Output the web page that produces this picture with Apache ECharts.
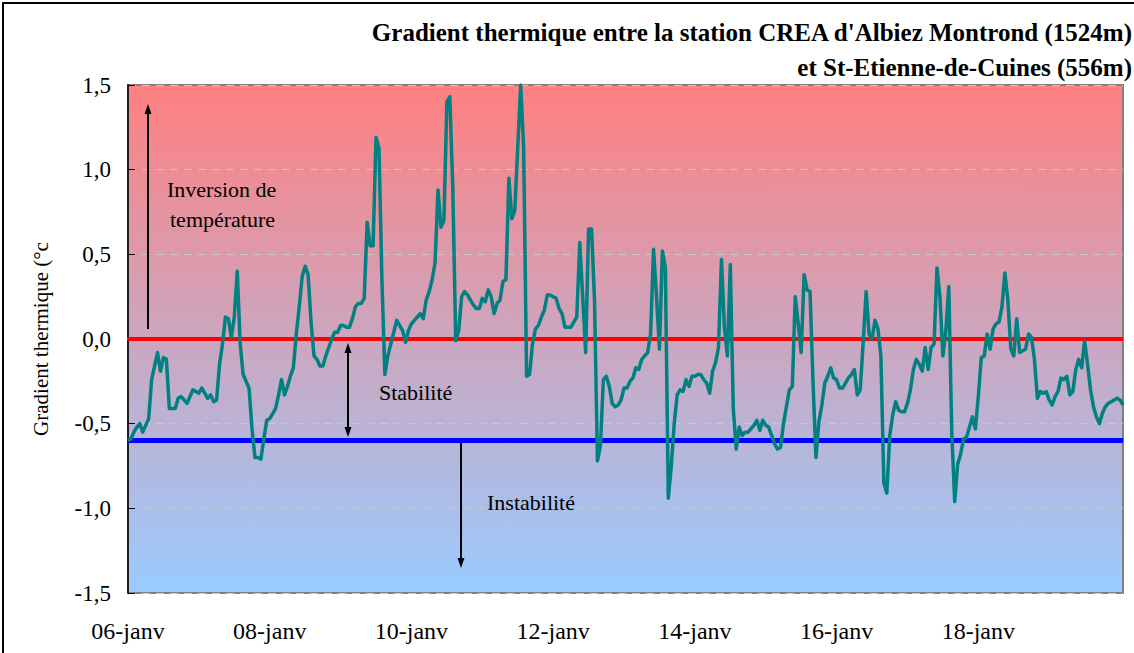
<!DOCTYPE html>
<html>
<head>
<meta charset="utf-8">
<title>Gradient thermique</title>
<script src="https://cdn.jsdelivr.net/npm/echarts@6/dist/echarts.min.js"></script>
<style>
  html, body { margin: 0; padding: 0; background: #fff; }
  #chart { width: 1134px; height: 653px; }
</style>
</head>
<body>
<div id="chart"></div>
<script>
// labels shown every 48 h along the time axis
var dayLabels = ['06-janv', '08-janv', '10-janv', '12-janv', '14-janv', '16-janv', '18-janv']
var hoursPerLabel = 48

// reference levels (°C)
var inversionLevel = 0
var instabilityLevel = -0.6

// hourly gradient from 06-janv 00h
var gradient = [
  // 06-janv
  -0.60, -0.59, -0.55, -0.52, -0.50, -0.55, -0.51, -0.47, -0.24, -0.16, -0.08, -0.19,
  -0.11, -0.12, -0.41, -0.41, -0.41, -0.35, -0.34, -0.36, -0.38, -0.34, -0.30, -0.31,
  // 07-janv
  -0.32, -0.29, -0.32, -0.35, -0.33, -0.37, -0.36, -0.15, -0.03, 0.13, 0.12, 0.01,
  0.13, 0.40, -0.03, -0.21, -0.25, -0.29, -0.53, -0.70, -0.70, -0.71, -0.59, -0.48,
  // 08-janv
  -0.47, -0.44, -0.41, -0.33, -0.24, -0.33, -0.28, -0.22, -0.17, 0.03, 0.19, 0.37,
  0.43, 0.38, 0.10, -0.10, -0.12, -0.16, -0.16, -0.10, -0.05, 0.00, 0.04, 0.04,
  // 09-janv
  0.08, 0.08, 0.07, 0.07, 0.12, 0.19, 0.21, 0.21, 0.24, 0.69, 0.55, 0.55,
  1.19, 1.13, 0.35, -0.21, -0.10, -0.03, 0.04, 0.11, 0.08, 0.05, -0.02, 0.05,
  // 10-janv
  0.09, 0.11, 0.13, 0.15, 0.12, 0.23, 0.28, 0.35, 0.45, 0.88, 0.66, 0.70,
  1.40, 1.43, 0.89, -0.01, 0.05, 0.25, 0.28, 0.26, 0.23, 0.20, 0.18, 0.18,
  // 11-janv
  0.24, 0.22, 0.29, 0.25, 0.15, 0.21, 0.23, 0.34, 0.35, 0.95, 0.71, 0.76,
  1.13, 1.50, 1.13, -0.22, -0.21, -0.03, 0.06, 0.08, 0.13, 0.17, 0.26, 0.26,
  // 12-janv
  0.25, 0.24, 0.18, 0.15, 0.07, 0.07, 0.07, 0.10, 0.13, 0.57, 0.25, -0.08,
  0.65, 0.65, 0.23, -0.72, -0.63, -0.24, -0.22, -0.28, -0.38, -0.40, -0.39, -0.36,
  // 13-janv
  -0.29, -0.29, -0.25, -0.23, -0.17, -0.18, -0.12, -0.10, -0.08, 0.03, 0.53, 0.25,
  -0.06, 0.52, 0.42, -0.94, -0.75, -0.50, -0.33, -0.30, -0.31, -0.24, -0.28, -0.22,
  // 14-janv
  -0.22, -0.21, -0.21, -0.24, -0.26, -0.32, -0.19, -0.14, -0.05, 0.47, 0.07, -0.10,
  0.44, -0.41, -0.65, -0.52, -0.57, -0.55, -0.55, -0.53, -0.51, -0.48, -0.54, -0.48,
  // 15-janv
  -0.51, -0.52, -0.57, -0.62, -0.65, -0.64, -0.50, -0.40, -0.30, -0.28, 0.25, 0.09,
  -0.08, 0.38, 0.29, 0.28, -0.25, -0.70, -0.49, -0.39, -0.26, -0.22, -0.17, -0.23,
  // 16-janv
  -0.24, -0.29, -0.29, -0.26, -0.23, -0.21, -0.18, -0.33, -0.30, -0.02, 0.28, 0.03,
  0.00, 0.11, 0.06, -0.10, -0.85, -0.91, -0.57, -0.45, -0.37, -0.42, -0.43, -0.43,
  // 17-janv
  -0.38, -0.30, -0.18, -0.12, -0.15, -0.19, -0.05, -0.18, -0.05, -0.03, 0.42, 0.25,
  -0.10, 0.05, 0.31, -0.55, -0.96, -0.74, -0.68, -0.59, -0.58, -0.52, -0.46, -0.53,
  // 18-janv
  -0.34, -0.11, -0.10, 0.03, -0.06, 0.06, 0.09, 0.10, 0.19, 0.39, 0.23, -0.06,
  -0.10, 0.12, -0.08, -0.07, -0.06, 0.03, 0.01, -0.12, -0.35, -0.31, -0.32, -0.31,
  // 19-janv
  -0.36, -0.39, -0.34, -0.31, -0.23, -0.24, -0.22, -0.33, -0.31, -0.18, -0.12, -0.17,
  -0.01, -0.15, -0.30, -0.40, -0.46, -0.50, -0.44, -0.40, -0.38, -0.37, -0.36, -0.35,
  -0.36, -0.39
]

var serif = "'Liberation Serif', 'Times New Roman', serif"
var lastHour = gradient.length - 1

var chart = echarts.init(document.getElementById('chart'), null, { renderer: 'svg' })

function arrowHead(x, y, dir) {
  // small filled triangle, tip at (x, y)
  var d = dir === 'up' ? 10 : -10
  return {
    type: 'polygon',
    z: 50,
    shape: { points: [[x, y], [x - 3.5, y + d], [x + 3.5, y + d]] },
    style: { fill: '#000' }
  }
}

var option = {
  animation: false,
  backgroundColor: '#fff',
  title: {
    text: "Gradient thermique entre la station CREA d'Albiez Montrond (1524m)\net St-Etienne-de-Cuines (556m)",
    left: 1132,
    top: 15,
    padding: 0,
    textAlign: 'right',
    textStyle: {
      fontFamily: serif,
      fontWeight: 'bold',
      fontSize: 25,
      lineHeight: 35,
      color: '#000'
    }
  },
  grid: {
    left: 128,
    right: 11,
    top: 85,
    bottom: 60,
    show: true,
    borderColor: '#808080',
    borderWidth: 2,
    backgroundColor: {
      type: 'linear', x: 0, y: 0, x2: 0, y2: 1,
      colorStops: [
        { offset: 0, color: '#ff8080' },
        { offset: 1, color: '#99ccff' }
      ]
    },
    outerBoundsMode: 'none'
  },
  xAxis: {
    type: 'value',
    min: 0,
    max: lastHour,
    interval: hoursPerLabel,
    axisLine: { show: true, lineStyle: { color: '#808080', width: 2 } },
    axisTick: { show: false },
    splitLine: { show: false },
    axisLabel: {
      margin: 26,
      showMaxLabel: false,
      fontFamily: serif,
      fontSize: 24,
      color: '#000',
      formatter: function (v) {
        return (v % hoursPerLabel === 0 && dayLabels[v / hoursPerLabel]) || ''
      }
    }
  },
  yAxis: {
    type: 'value',
    min: -1.5,
    max: 1.5,
    interval: 0.5,
    name: 'Gradient thermique (°c',
    nameLocation: 'middle',
    nameGap: 77,
    nameTextStyle: { fontFamily: serif, fontSize: 21, color: '#000' },
    axisLine: { show: true, lineStyle: { color: '#000', width: 1.5 } },
    axisTick: { show: true, inside: true, length: 7, lineStyle: { color: '#000' } },
    splitLine: { show: true, lineStyle: { color: '#c8c8c8', type: [8, 6], width: 1 } },
    axisLabel: {
      margin: 17,
      fontFamily: serif,
      fontSize: 23,
      color: '#000',
      formatter: function (v) { return v.toFixed(1).replace('.', ',') }
    }
  },
  graphic: [
    // frame round the whole chart
    { type: 'rect', z: 100, shape: { x: 3, y: 3, width: 1140, height: 660 }, style: { fill: 'none', stroke: '#000', lineWidth: 2 } },
    // inversion arrow
    { type: 'line', z: 50, shape: { x1: 148, y1: 329, x2: 148, y2: 112 }, style: { stroke: '#000', lineWidth: 2 } },
    arrowHead(148, 104, 'up'),
    { type: 'text', left: 167, top: 178, z: 50, style: { text: 'Inversion de', font: '22px ' + serif, fill: '#000' } },
    { type: 'text', left: 170, top: 208, z: 50, style: { text: 'température', font: '22px ' + serif, fill: '#000' } },
    // stability arrow
    { type: 'line', z: 50, shape: { x1: 348, y1: 350, x2: 348, y2: 430 }, style: { stroke: '#000', lineWidth: 2 } },
    arrowHead(348, 343, 'up'),
    arrowHead(348, 437, 'down'),
    { type: 'text', left: 379, top: 381, z: 50, style: { text: 'Stabilité', font: '22px ' + serif, fill: '#000' } },
    // instability arrow
    { type: 'line', z: 50, shape: { x1: 461, y1: 443, x2: 461, y2: 560 }, style: { stroke: '#000', lineWidth: 2 } },
    arrowHead(461, 568, 'down'),
    { type: 'text', left: 487, top: 491, z: 50, style: { text: 'Instabilité', font: '22px ' + serif, fill: '#000' } }
  ],
  series: [
    {
      name: 'Inversion',
      type: 'line',
      silent: true,
      showSymbol: false,
      data: [[0, inversionLevel], [lastHour, inversionLevel]],
      lineStyle: { color: '#ff0000', width: 4 },
      z: 2
    },
    {
      name: 'Instabilité',
      type: 'line',
      silent: true,
      showSymbol: false,
      data: [[0, instabilityLevel], [lastHour, instabilityLevel]],
      lineStyle: { color: '#0000ff', width: 5 },
      z: 2
    },
    {
      name: 'Gradient',
      type: 'line',
      showSymbol: false,
      data: gradient.map(function (v, i) { return [i, v] }),
      lineStyle: { color: '#008080', width: 3.5, join: 'round' },
      itemStyle: { color: '#008080' },
      z: 3
    }
  ]
}

chart.setOption(option)
</script>
</body>
</html>
